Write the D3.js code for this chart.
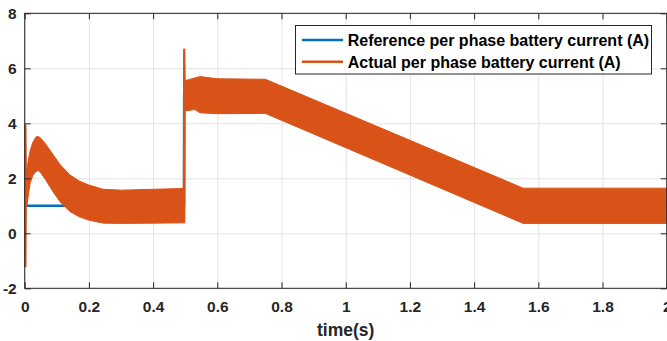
<!DOCTYPE html>
<html>
<head>
<meta charset="utf-8">
<script src="https://cdn.jsdelivr.net/npm/d3@7"></script>
<style>
  html, body { margin: 0; padding: 0; background: #fff; overflow: hidden; }
  svg { display: block; font-family: "Liberation Sans", Arial, sans-serif; font-weight: bold; }
</style>
</head>
<body>
<div id="chart"></div>
<script>
// reference current (A)
var refTime  = [0, 0.4965, 0.4965, 0.75, 1.553, 2];
var refValue = [1, 1, 5, 5, 1, 1];

// actual current: envelope of the ripple band (A)
var actTime  = [0, 0.004, 0.005, 0.007, 0.012, 0.017, 0.025, 0.035, 0.042, 0.05, 0.065, 0.089, 0.11, 0.141, 0.17, 0.199, 0.245, 0.3, 0.4, 0.494, 0.495, 0.499, 0.5, 0.53, 0.546, 0.6, 0.75, 1.553, 2];
var actUpper = [3.94, 3.94, 2.4, 2.35, 2.7, 3.0, 3.3, 3.5, 3.52, 3.46, 3.25, 2.85, 2.5, 2.12, 1.9, 1.76, 1.6, 1.57, 1.6, 1.63, 6.7, 6.7, 5.55, 5.65, 5.7, 5.62, 5.6, 1.64, 1.64];
var actLower = [-1.22, -1.22, 0.95, 1.0, 1.45, 1.82, 2.1, 2.25, 2.28, 2.2, 1.95, 1.5, 1.15, 0.79, 0.6, 0.48, 0.37, 0.36, 0.37, 0.38, 0.38, 0.38, 4.45, 4.5, 4.38, 4.35, 4.36, 0.36, 0.36];

var xTicks = [0, 0.2, 0.4, 0.6, 0.8, 1, 1.2, 1.4, 1.6, 1.8, 2];
var yTicks = [-2, 0, 2, 4, 6, 8];
var legendLabels = ['Reference per phase battery current (A)', 'Actual per phase battery current (A)'];
var colors = ['#0072BD', '#D95319'];

const W = 667, H = 341;
const plotLeft = 24.7, plotRight = 666.7, plotTop = 13.3, plotBottom = 288.3;
const ink = '#262626';

var svg = d3.select('#chart').append('svg')
    .attr('width', W)
    .attr('height', H);

var xScale = d3.scaleLinear().domain([0, 2]).range([plotLeft, plotRight]);
var yScale = d3.scaleLinear().domain([-2, 8]).range([plotBottom, plotTop]);

// grid
svg.append('g')
    .attr('transform', 'translate(0,' + plotBottom + ')')
    .call(d3.axisBottom(xScale).tickValues(xTicks).tickSize(-(plotBottom - plotTop)).tickFormat(''))
    .call(g => g.select('.domain').remove())
    .call(g => g.selectAll('line').attr('stroke', '#e3e3e3').attr('stroke-width', 1));
svg.append('g')
    .attr('transform', 'translate(' + plotLeft + ',0)')
    .call(d3.axisLeft(yScale).tickValues(yTicks).tickSize(-(plotRight - plotLeft)).tickFormat(''))
    .call(g => g.select('.domain').remove())
    .call(g => g.selectAll('line').attr('stroke', '#e3e3e3').attr('stroke-width', 1));

// reference line
var refData = refTime.map((t, i) => [t, refValue[i]]);
svg.append('path')
    .datum(refData)
    .attr('fill', 'none')
    .attr('stroke', colors[0])
    .attr('stroke-width', 2.4)
    .attr('d', d3.line().x(d => xScale(d[0])).y(d => yScale(d[1])));

// actual current band
var actData = actTime.map((t, i) => ({ t: t, hi: actUpper[i], lo: actLower[i] }));
svg.append('path')
    .datum(actData)
    .attr('fill', colors[1])
    .attr('stroke', colors[1])
    .attr('stroke-width', 1)
    .attr('d', d3.area()
        .x(d => xScale(d.t))
        .y0(d => yScale(d.lo))
        .y1(d => yScale(d.hi)));

// axes (ticks point inward)
var fmt = d => String(+d.toFixed(1));
function styleAxis(g) {
    g.select('.domain').remove();
    g.selectAll('line').attr('stroke', ink);
    g.selectAll('text').attr('fill', ink).style('font-size', '15.5px').style('font-weight', 'bold')
        .attr('font-family', '"Liberation Sans", Arial, sans-serif');
}
svg.append('g')
    .attr('transform', 'translate(0,' + plotBottom + ')')
    .call(d3.axisBottom(xScale).tickValues(xTicks).tickSize(-6).tickPadding(13).tickFormat(fmt))
    .call(styleAxis);
svg.append('g')
    .attr('transform', 'translate(0,' + plotTop + ')')
    .call(d3.axisTop(xScale).tickValues(xTicks).tickSize(-6).tickFormat(''))
    .call(styleAxis);
svg.append('g')
    .attr('transform', 'translate(' + plotLeft + ',0)')
    .call(d3.axisLeft(yScale).tickValues(yTicks).tickSize(-6).tickPadding(8).tickFormat(fmt))
    .call(styleAxis);
svg.append('g')
    .attr('transform', 'translate(' + plotRight + ',0)')
    .call(d3.axisRight(yScale).tickValues(yTicks).tickSize(-6).tickFormat(''))
    .call(styleAxis);

// box
svg.append('rect')
    .attr('x', plotLeft).attr('y', plotTop)
    .attr('width', plotRight - plotLeft).attr('height', plotBottom - plotTop)
    .attr('fill', 'none')
    .attr('stroke', ink)
    .attr('stroke-width', 1);

// x axis label
svg.append('text')
    .attr('x', xScale(1))
    .attr('y', 336)
    .attr('text-anchor', 'middle')
    .attr('fill', ink)
    .style('font-size', '17.5px')
    .text('time(s)');

// legend
var legend = svg.append('g');
legend.append('rect')
    .attr('x', 295.5).attr('y', 25.5)
    .attr('width', 356).attr('height', 48.5)
    .attr('fill', '#fff')
    .attr('stroke', ink)
    .attr('stroke-width', 1);
var rowY = [40, 61.7];
legendLabels.forEach(function (label, i) {
    legend.append('line')
        .attr('x1', 302).attr('x2', 343)
        .attr('y1', rowY[i]).attr('y2', rowY[i])
        .attr('stroke', colors[i])
        .attr('stroke-width', 2.4);
    legend.append('text')
        .attr('x', 347.7)
        .attr('y', rowY[i] + 5.8)
        .attr('fill', '#000')
        .style('font-size', '16px')
        .text(label);
});
</script>
</body>
</html>
